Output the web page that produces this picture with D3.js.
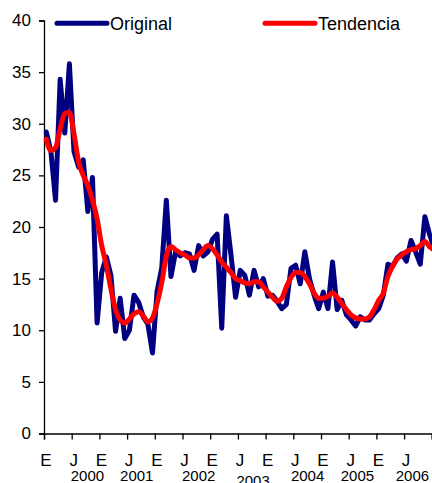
<!DOCTYPE html>
<html>
<head>
<meta charset="utf-8">
<script src="https://cdn.jsdelivr.net/npm/d3@7"></script>
<style>
  html, body { margin: 0; padding: 0; background: #fff; }
  svg { display: block; font-family: "Liberation Sans", Arial, sans-serif; }
</style>
</head>
<body>
<div id="chart"></div>
<script>
//--------------------------------------------------
// Datos (mensuales)
//--------------------------------------------------
const original = [
  29.2, 27.3, 22.6, 34.3, 29.1, 35.8, 27.3, 25.8, 26.5, 21.5, 24.8, 10.7,
  15.6, 17.1, 15.3, 9.9, 13.1, 9.2, 10.0, 13.4, 12.7, 11.3, 10.6, 7.8,
  13.8, 16.0, 22.6, 15.2, 17.6, 17.2, 17.5, 17.4, 15.8, 18.2, 17.2, 17.6,
  18.8, 19.3, 10.2, 21.1, 17.3, 13.2, 15.8, 15.3, 13.4, 15.8, 14.2, 15.0,
  13.3, 13.4, 12.8, 12.1, 12.5, 16.0, 16.3, 14.5, 17.6, 15.0, 13.4, 12.1,
  13.7, 12.1, 16.6, 12.0, 12.9, 11.5, 11.0, 10.4, 11.3, 11.0, 11.0, 11.6,
  12.1, 13.4, 16.4, 16.2, 17.0, 17.4, 16.7, 18.7, 17.6, 16.4, 21.0, 19.3,
  18.0
];
const tendencia = [
  28.5, 27.4, 27.7, 29.5, 31.0, 31.1, 29.0, 26.3, 25.0, 24.0, 22.6, 20.8,
  18.2, 16.3, 14.0, 12.0, 11.0, 10.7, 11.1, 11.6, 11.8, 11.4, 10.8, 11.2,
  12.6, 14.6, 17.2, 18.1, 17.8, 17.5, 17.3, 17.0, 17.0, 17.3, 17.8, 18.2,
  17.9, 17.3, 16.6, 16.1, 15.6, 15.0, 14.8, 14.6, 14.5, 14.7, 14.7, 14.2,
  13.7, 13.2, 12.8, 13.1, 14.2, 15.1, 15.6, 15.6, 15.2, 14.5, 13.6, 13.1,
  13.1, 13.3, 13.6, 13.2, 12.6, 12.0, 11.5, 11.2, 11.1, 11.1, 11.3, 12.0,
  12.9, 13.6, 15.2, 16.2, 16.9, 17.3, 17.6, 17.8, 17.9, 18.2, 18.6, 18.1,
  17.8
];
const seriesNames = ["Original", "Tendencia"];
const monthLabels = ["E", "J", "E", "J", "E", "J", "E", "J", "E", "J", "E", "J", "E", "J"];
const yearLabels = ["2000", "2001", "2002", "2003", "2004", "2005", "2006"];
const yTicks = [0, 5, 10, 15, 20, 25, 30, 35, 40];

//--------------------------------------------------
// Estilo / layout
//--------------------------------------------------
const W = 432, H = 483;
const COLOR_ORIG = "#000080";
const COLOR_TREND = "#ff0000";
const X0 = 44, X1 = 431.8, Y0 = 433.5, Y1 = 20.5;
// posición (en meses) de los rótulos de año, como los deja Excel
const yearAnchor = [8.9, 19.6, 33.0, 44.8, 56.6, 67.4, 79.3];
const yearDrop = [0, 0, 0, 1, 0, 0, 0];

const svg = d3.select("#chart").append("svg")
  .attr("width", W).attr("height", H);

const x = d3.scaleLinear().domain([-0.5, 83.5]).range([X0, X1]);
const y = d3.scaleLinear().domain([0, 40]).range([Y0, Y1]);

// eje Y
const yAxis = svg.append("g")
  .attr("transform", `translate(${X0},0)`)
  .call(d3.axisLeft(y).tickValues(yTicks).tickSize(5).tickPadding(8));
yAxis.select(".domain").attr("stroke", "#000").attr("stroke-width", 1.3);
yAxis.selectAll(".tick line").attr("stroke", "#000").attr("stroke-width", 1.3);
yAxis.selectAll("text")
  .attr("font-size", 17).attr("font-family", "Liberation Sans, Arial, sans-serif")
  .attr("fill", "#000");

// eje X (ticks cada 6 meses)
const xTickVals = d3.range(0, 15).map(k => -0.5 + 6 * k);
const xAxis = svg.append("g")
  .attr("transform", `translate(0,${Y0})`)
  .call(d3.axisBottom(x).tickValues(xTickVals).tickSize(6).tickFormat(""));
xAxis.select(".domain").attr("stroke", "#000").attr("stroke-width", 1.3);
xAxis.selectAll(".tick line").attr("stroke", "#000").attr("stroke-width", 1.3);

svg.append("g").selectAll("text")
  .data(monthLabels)
  .join("text")
  .attr("x", (d, k) => x(-0.5 + 6 * k) + 2)
  .attr("y", 465.5)
  .attr("text-anchor", "middle")
  .attr("font-size", 17)
  .attr("fill", "#000")
  .text(d => d);

svg.append("g").selectAll("text")
  .data(yearLabels)
  .join("text")
  .attr("x", (d, k) => x(yearAnchor[k]))
  .attr("y", (d, k) => 480.5 + yearDrop[k] * 5)
  .attr("text-anchor", "middle")
  .attr("font-size", 15)
  .attr("fill", "#000")
  .text(d => d);

// series
const line = d3.line()
  .x((d, i) => x(i))
  .y(d => y(d));

svg.append("path")
  .datum(original)
  .attr("d", line)
  .attr("fill", "none")
  .attr("stroke", COLOR_ORIG)
  .attr("stroke-width", 5)
  .attr("stroke-linejoin", "round")
  .attr("stroke-linecap", "round");

svg.append("path")
  .datum(tendencia)
  .attr("d", line.curve(d3.curveMonotoneX))
  .attr("fill", "none")
  .attr("stroke", COLOR_TREND)
  .attr("stroke-width", 5)
  .attr("stroke-linejoin", "round")
  .attr("stroke-linecap", "round");

// leyenda
const legend = svg.append("g");
const legX = [57, 265];
const legColors = [COLOR_ORIG, COLOR_TREND];
seriesNames.forEach((name, k) => {
  legend.append("line")
    .attr("x1", legX[k]).attr("x2", legX[k] + 50)
    .attr("y1", 23.3).attr("y2", 23.3)
    .attr("stroke", legColors[k])
    .attr("stroke-width", 5)
    .attr("stroke-linecap", "round");
  legend.append("text")
    .attr("x", legX[k] + 53)
    .attr("y", 30)
    .attr("font-size", 18)
    .attr("fill", "#000")
    .text(name);
});
</script>
</body>
</html>
